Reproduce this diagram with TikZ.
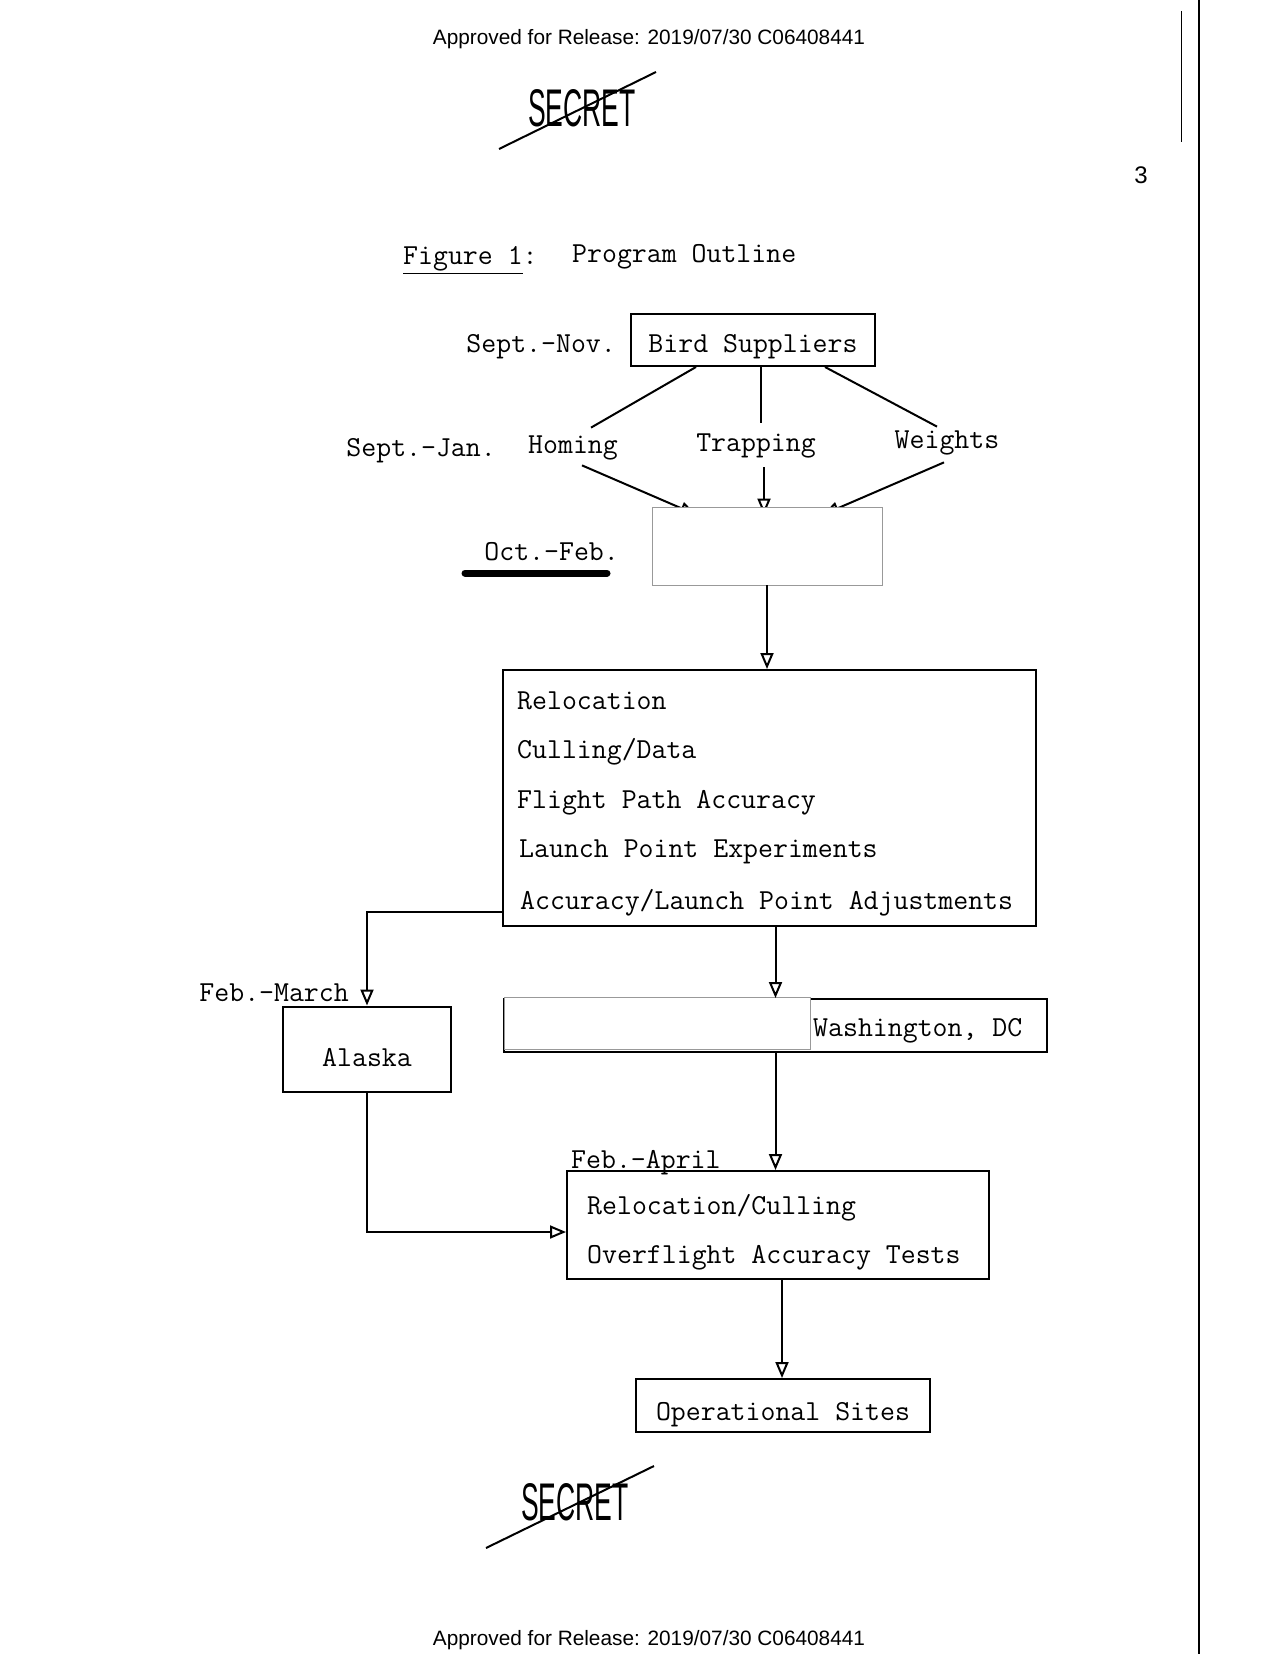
\documentclass[tikz,border=0pt]{standalone}
\usepackage{fontspec}
\setmainfont{Liberation Sans}
\usetikzlibrary{arrows.meta,backgrounds}

\begin{document}
\begin{tikzpicture}[x=1pt,y=-1pt,
    txt/.style={font=\ttfamily\fontsize{29}{34}\selectfont, inner sep=0pt},
    box/.style={txt, draw, line width=2pt, text height=24pt, text depth=0pt},
    blank/.style={draw=black!40, line width=0.8pt, fill=white},
    arr/.style={line width=2pt, -{Triangle[open,length=16pt,width=13pt]}},
    link/.style={line width=2pt},
    stamp/.style={font=\fontsize{53}{53}\selectfont, inner sep=0pt}]

    % Page
    \useasboundingbox (0,0) rectangle (1272,1654);
    \begin{scope}[on background layer]
        \fill[white] (0,0) rectangle (1272,1654);
    \end{scope}

    % Release lines, stamps, page number
    \node[font=\fontsize{20.8}{24}\selectfont] (reltop) at (649,39) {Approved for Release: 2019/07/30 C06408441};
    \node[font=\fontsize{20.8}{24}\selectfont] (relbot) at (649,1640) {Approved for Release: 2019/07/30 C06408441};
    \node[stamp] (sectop) at (582,108) {\scalebox{0.5}[1]{SECRET}};
    \draw[line width=2pt] (499,149) -- (656,72);
    \node[stamp] (secbot) at (575,1502) {\scalebox{0.5}[1]{SECRET}};
    \draw[line width=2pt] (486,1548) -- (654,1466);
    \node[font=\fontsize{24}{24}\selectfont] (pagenum) at (1141,175) {3};
    \draw[line width=1.5pt] (1199,0) -- (1199,1654);
    \draw[line width=1pt] (1181,11) -- (1181,142);

    % Title
    \node[txt, anchor=west] (figlbl) at (403,260) {\underline{Figure 1}:};
    \node[txt, anchor=west] (figtitle) at (572,257) {Program Outline};

    % Suppliers and the three branches
    \node[box, minimum width=244, minimum height=52] (birds) at (753,340) {Bird Suppliers};
    \node[txt, anchor=east] (sepnov) at (616,347) {Sept.-Nov.};
    \node[txt, anchor=east] (sepjan) at (496,451) {Sept.-Jan.};
    \node[txt] (homing) at (573,448) {Homing};
    \node[txt] (trapping) at (756,446) {Trapping};
    \node[txt] (weights) at (947,443) {Weights};

    \draw[link] ([xshift=-57pt]birds.south) -- ([xshift=18pt,yshift=8pt]homing.north);
    \draw[link] ([xshift=8pt]birds.south) -- ([xshift=5pt,yshift=11pt]trapping.north);
    \draw[link] ([xshift=72pt]birds.south) -- ([xshift=-10pt,yshift=4pt]weights.north);

    % Blanked box
    \node[blank, minimum width=230, minimum height=78] (hidden) at (767,546) {};
    \node[txt, anchor=east] (octfeb) at (619,552) {Oct.-Feb.};
    \draw[line width=7pt, line cap=round] (465,573) -- (607,573);

    \begin{scope}[on background layer]
        \draw[arr] ([xshift=9pt,yshift=-5pt]homing.south) -- ([xshift=-71pt,yshift=-8pt]hidden.north);
        \draw[arr] ([xshift=8pt,yshift=-9pt]trapping.south) -- ([xshift=-3pt,yshift=-8pt]hidden.north);
        \draw[arr] ([xshift=-3pt,yshift=-7pt]weights.south) -- ([xshift=56pt,yshift=-8pt]hidden.north);
    \end{scope}

    % Main trials
    \node[box, minimum width=533, minimum height=256] (bigbox) at (769.5,798) {};
    \node[txt, anchor=west] (reloc) at (517,701) {Relocation};
    \node[txt, anchor=west] (culling) at (517,752) {Culling/Data};
    \node[txt, anchor=west] (flight) at (517,803) {Flight Path Accuracy};
    \node[txt, anchor=west] (launch) at (519,852) {Launch Point Experiments};
    \node[txt, anchor=west] (adjust) at (520,903) {Accuracy/Launch Point Adjustments};
    \draw[arr] (hidden.south) -- (hidden.south |- bigbox.north);

    % Alaska branch
    \node[txt, anchor=east] (febmar) at (349,993) {Feb.-March};
    \node[box, minimum width=168, minimum height=85, text height=34pt] (alaska) at (367,1049) {Alaska};
    \draw[arr] ([yshift=-114pt]bigbox.west) -| (alaska.north);

    % Washington branch
    \node[box, minimum width=543, minimum height=53] (wash) at (775.5,1025.5) {};
    \node[txt, anchor=west] (washtxt) at (813,1031) {Washington, DC};
    \node[blank, minimum width=306, minimum height=52] (hidden2) at (657,1023) {};
    \draw[arr] ([xshift=6pt]bigbox.south) -- ([xshift=6pt]bigbox.south |- wash.north);

    % Overflight tests
    \node[txt, anchor=west] (febapr) at (571,1163) {Feb.-April};
    \node[box, minimum width=422, minimum height=108] (rc) at (778,1225) {};
    \node[txt, anchor=west] (relcull) at (587,1208) {Relocation/Culling};
    \node[txt, anchor=west] (overfl) at (587,1258) {Overflight Accuracy Tests};
    \draw[arr] (wash.south) -- (wash.south |- rc.north);
    \draw[arr] (alaska.south) |- ([yshift=-7pt]rc.west);

    % Sites
    \node[box, minimum width=294, minimum height=53, text height=29pt] (opsites) at (783,1405.5) {Operational Sites};
    \draw[arr] ([xshift=4pt]rc.south) -- ([xshift=4pt]rc.south |- opsites.north);

\end{tikzpicture}
\end{document}
